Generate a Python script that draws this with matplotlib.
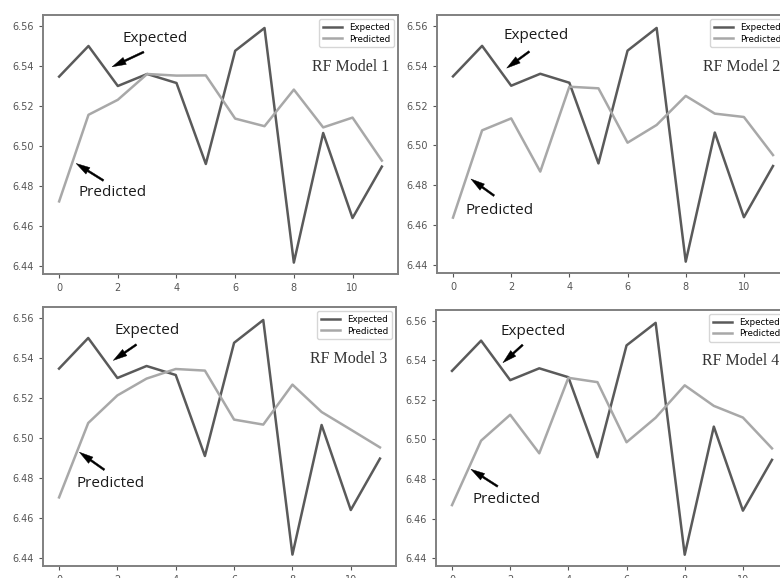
import matplotlib
matplotlib.use("Agg")
import matplotlib.pyplot as plt

# data
steps = list(range(12))
expected = [6.5347, 6.550, 6.530, 6.536, 6.5315, 6.491, 6.5476, 6.559,
            6.4417, 6.5065, 6.464, 6.4897]
pred_rf1 = [6.4723, 6.5156, 6.5231, 6.536, 6.5352, 6.5353, 6.5137, 6.5099,
            6.5282, 6.5093, 6.5142, 6.4927]
pred_rf2 = [6.4638, 6.5076, 6.5136, 6.4869, 6.5295, 6.5287, 6.5014, 6.5103,
            6.5249, 6.516, 6.5143, 6.4952]
pred_rf3 = [6.4703, 6.5075, 6.5213, 6.5297, 6.5345, 6.5337, 6.5092, 6.5067,
            6.5267, 6.513, 6.5042, 6.4953]
pred_rf4 = [6.4668, 6.4994, 6.5125, 6.493, 6.5312, 6.529, 6.4986, 6.511,
            6.5274, 6.517, 6.5111, 6.4955]
titles = ["RF Model 1", "RF Model 2", "RF Model 3", "RF Model 4"]
predicted = [pred_rf1, pred_rf2, pred_rf3, pred_rf4]

W, H = 780, 578
# axes boxes in pixels: left, top, width, height
boxes = [(43, 15, 355, 259), (437, 15, 352, 258),
         (43, 307, 353, 259), (436, 310, 352, 256)]
# annotation spots (text xy, arrow tail, arrow head) for each panel
exp_notes = [((3.28, 6.554), (2.97, 6.5476), (1.72, 6.539)),
             ((2.85, 6.555), (2.70, 6.548), (1.77, 6.538)),
             ((3.03, 6.5538), (2.73, 6.5475), (1.78, 6.538)),
             ((2.80, 6.5546), (2.50, 6.5488), (1.68, 6.5379))]
pre_notes = [((1.81, 6.4767), (1.59, 6.482), (0.50, 6.492)),
             ((1.59, 6.4675), (1.49, 6.474), (0.54, 6.484)),
             ((1.78, 6.4772), (1.63, 6.4833), (0.62, 6.4937)),
             ((1.86, 6.4696), (1.65, 6.4755), (0.57, 6.4857))]

fig = plt.figure(figsize=(W / 100, H / 100), dpi=100)
fig.patch.set_facecolor("white")

for i in range(4):
    l, t, w, h = boxes[i]
    ax = fig.add_axes([l / W, (H - t - h) / H, w / W, h / H])
    ax.plot(steps, expected, color="#5a5a5a", lw=1.8, label="Expected")
    ax.plot(steps, predicted[i], color="#a8a8a8", lw=1.8, label="Predicted")
    ax.set_ylim(6.436, 6.5655)
    ax.set_yticks([6.44, 6.46, 6.48, 6.50, 6.52, 6.54, 6.56])
    ax.set_xticks([0, 2, 4, 6, 8, 10])
    for s in ax.spines.values():
        s.set_color("#808080")
        s.set_linewidth(1.4)
    ax.tick_params(labelsize=7, colors="#555555", length=3)
    leg = ax.legend(loc="upper right", fontsize=6.3, frameon=True,
                    handlelength=2.2, borderpad=0.4, labelspacing=0.3)
    leg.get_frame().set_edgecolor("#cccccc")
    ax.text(0.757, 0.80, titles[i], transform=ax.transAxes, ha="left",
            va="center", fontsize=11.5, family="Liberation Serif",
            color="#333333")
    for (txt, tail, head), lab in [(exp_notes[i], "Expected"),
                                   (pre_notes[i], "Predicted")]:
        ax.text(txt[0], txt[1], lab, ha="center", va="center",
                fontsize=11, family="Open Sans", color="#1a1a1a")
        ax.annotate("", xy=head, xytext=tail,
                    arrowprops=dict(arrowstyle="simple,head_length=1.0,head_width=0.55,tail_width=0.14",
                                    color="black", lw=0.3))

fig.savefig("out.png", dpi=100, facecolor="white")
